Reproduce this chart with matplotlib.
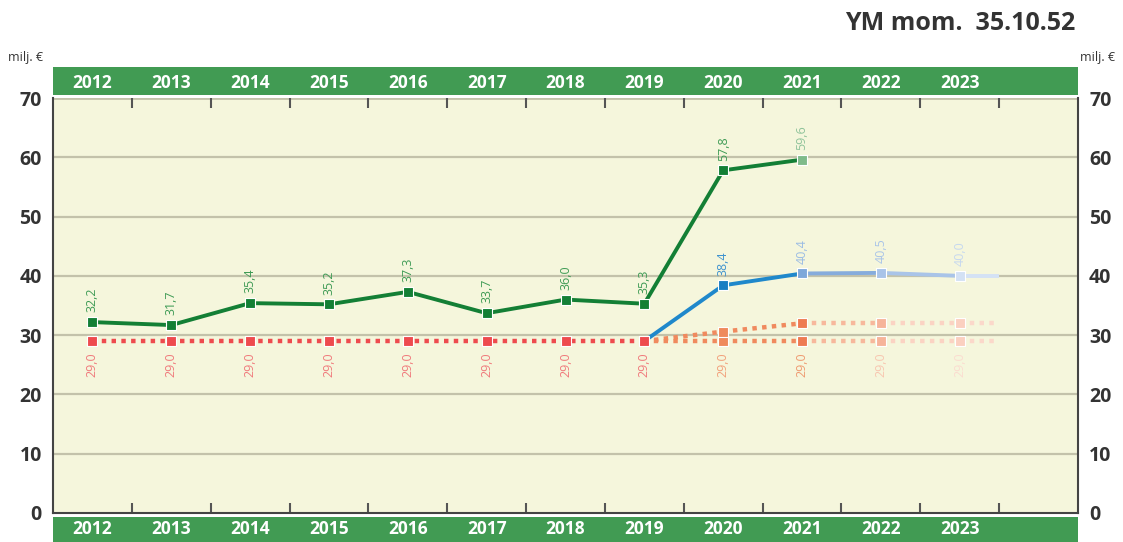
import matplotlib
matplotlib.use("Agg")
import matplotlib.pyplot as plt

plt.rcParams["font.family"] = ["Open Sans", "DejaVu Sans"]

years = ["2012", "2013", "2014", "2015", "2016", "2017", "2018", "2019", "2020", "2021", "2022", "2023"]
n_slots = 13

# toteutunut (vihreä)
green_x = [0, 1, 2, 3, 4, 5, 6, 7, 8, 9]
green_vals = [32.2, 31.7, 35.4, 35.2, 37.3, 33.7, 36.0, 35.3, 57.8, 59.6]
green_mk = ["#137f35"] * 9 + ["#7fbb8a"]
green_lbl = ["#3f9b55"] * 9 + ["#8fc39a"]

# kehys (sininen)
blue_x = [7, 8, 9, 10, 11, 11.5]
blue_vals = [29.0, 38.4, 40.4, 40.5, 40.0, 40.0]
blue_seg = ["#1f88cb", "#1f88cb", "#86acdc", "#a9c4e8", "#d4e2f5"]
blue_mk = [None, "#1a7ec3", "#7ea8da", "#a8c3e8", "#d3e1f4", None]
blue_lbl = [None, "#3f93cf", "#9bbce4", "#aac5e8", "#c6d8ef", None]

# talousarvio (punainen / oranssi)
red_x = [0, 1, 2, 3, 4, 5, 6, 7]
red_vals = [29.0] * 8
orange_x = [7, 8, 9, 10, 11, 11.5]
orange_low = [29.0, 29.0, 29.0, 29.0, 29.0, 29.0]
orange_high = [29.0, 30.6, 32.0, 32.0, 32.0, 32.0]
orange_seg = ["#f08a5e", "#f08a5e", "#f7b89c", "#fbd3c3", "#fbd8ca"]
orange_mk = [None, "#ef8a5c", "#ee7b52", "#f6b49a", "#fbd0c0", None]
red_lbl = ["#f07a7c"] * 8 + ["#f2a07a", "#ef9a70", "#f8c6b0", "#fbdcd0"]

MS = 50

fig = plt.figure(figsize=(11.23, 5.42), dpi=100)
L, R = 53 / 1123, 1078 / 1123
ax = fig.add_axes([L, 29 / 542, R - L, 415 / 542])
ax.set_facecolor("#f5f6dc")
ax.set_xlim(-0.5, n_slots - 0.5)
ax.set_ylim(0, 70)
ax.set_yticks(range(0, 71, 10))
for y in range(10, 70, 10):
    ax.axhline(y, color="#c3c2aa", lw=1.6, zorder=1)
ax.axhline(70, color="#c3c2aa", lw=2, zorder=1)
ax.set_xticks([k + 0.5 for k in range(12)])
ax.tick_params(axis="x", which="both", direction="in", length=7, width=1.5, color="#555555",
               top=True, bottom=True, labelbottom=False)
ax.tick_params(axis="y", length=0, labelsize=14, labelcolor="#333333", pad=8,
               left=True, right=True, labelleft=True, labelright=True)
for t in ax.get_yticklabels():
    t.set_fontweight("bold")
for s in ["left", "right", "bottom"]:
    ax.spines[s].set_color("#444444")
    ax.spines[s].set_linewidth(1.5)
ax.spines["top"].set_visible(False)

dot = (0, (1, 1.2))
# punainen perusviiva
ax.plot(red_x, red_vals, color="#ee4b4e", lw=3.2, ls=dot, zorder=3)
ax.scatter(red_x, red_vals, marker="s", s=MS, color="#ee4b4e", edgecolor="white", lw=0.8, zorder=6)
# oranssit jatkot
for vals in (orange_low, orange_high):
    for i in range(len(orange_x) - 1):
        ax.plot(orange_x[i:i + 2], vals[i:i + 2], color=orange_seg[i], lw=3.2, ls=dot, zorder=3)
    for x, v, c in zip(orange_x, vals, orange_mk):
        if c:
            ax.scatter([x], [v], marker="s", s=MS, color=c, edgecolor="white", lw=0.8, zorder=6)
# sininen
for i in range(len(blue_x) - 1):
    ax.plot(blue_x[i:i + 2], blue_vals[i:i + 2], color=blue_seg[i], lw=2.8, zorder=4,
            solid_capstyle="butt")
for x, v, c, lc in zip(blue_x, blue_vals, blue_mk, blue_lbl):
    if c:
        ax.scatter([x], [v], marker="s", s=MS, color=c, edgecolor="white", lw=0.8, zorder=7)
        ax.annotate(f"{v:.1f}".replace(".", ","), (x, v), xytext=(0, 7), textcoords="offset points",
                    rotation=90, ha="center", va="bottom", fontsize=9, color=lc)
# vihreä
ax.plot(green_x, green_vals, color="#137f35", lw=2.8, zorder=5)
for x, v, c, lc in zip(green_x, green_vals, green_mk, green_lbl):
    ax.scatter([x], [v], marker="s", s=MS, color=c, edgecolor="white", lw=0.8, zorder=8)
    ax.annotate(f"{v:.1f}".replace(".", ","), (x, v), xytext=(0, 7), textcoords="offset points",
                rotation=90, ha="center", va="bottom", fontsize=9, color=lc)
# 29,0 -tekstit
for i, c in enumerate(red_lbl):
    ax.annotate("29,0", (i, 29.0), xytext=(0, -8), textcoords="offset points",
                rotation=90, ha="center", va="top", fontsize=9, color=c)

# vuosinauhat
for bottom, height in ((447 / 542, 28 / 542), (0, 25 / 542)):
    band = fig.add_axes([L, bottom, R - L, height])
    band.set_facecolor("#419b53")
    band.set_xlim(-0.5, n_slots - 0.5)
    band.set_ylim(0, 1)
    band.set_xticks([])
    band.set_yticks([])
    for s in band.spines.values():
        s.set_visible(False)
    for i, yr in enumerate(years):
        band.text(i, 0.42 if bottom > 0 else 0.5, yr, ha="center", va="center",
                  color="white", fontsize=12.5, fontweight="bold")

fig.text(1075 / 1123, 1 - 23 / 542, "YM mom.  35.10.52", ha="right", va="center",
         fontsize=18, fontweight="bold", color="#333333")
fig.text(8 / 1123, 1 - 57 / 542, "milj. €", ha="left", va="center", fontsize=9, color="#333333")
fig.text(1080 / 1123, 1 - 57 / 542, "milj. €", ha="left", va="center", fontsize=9, color="#333333")

fig.savefig("out.png", dpi=100)
